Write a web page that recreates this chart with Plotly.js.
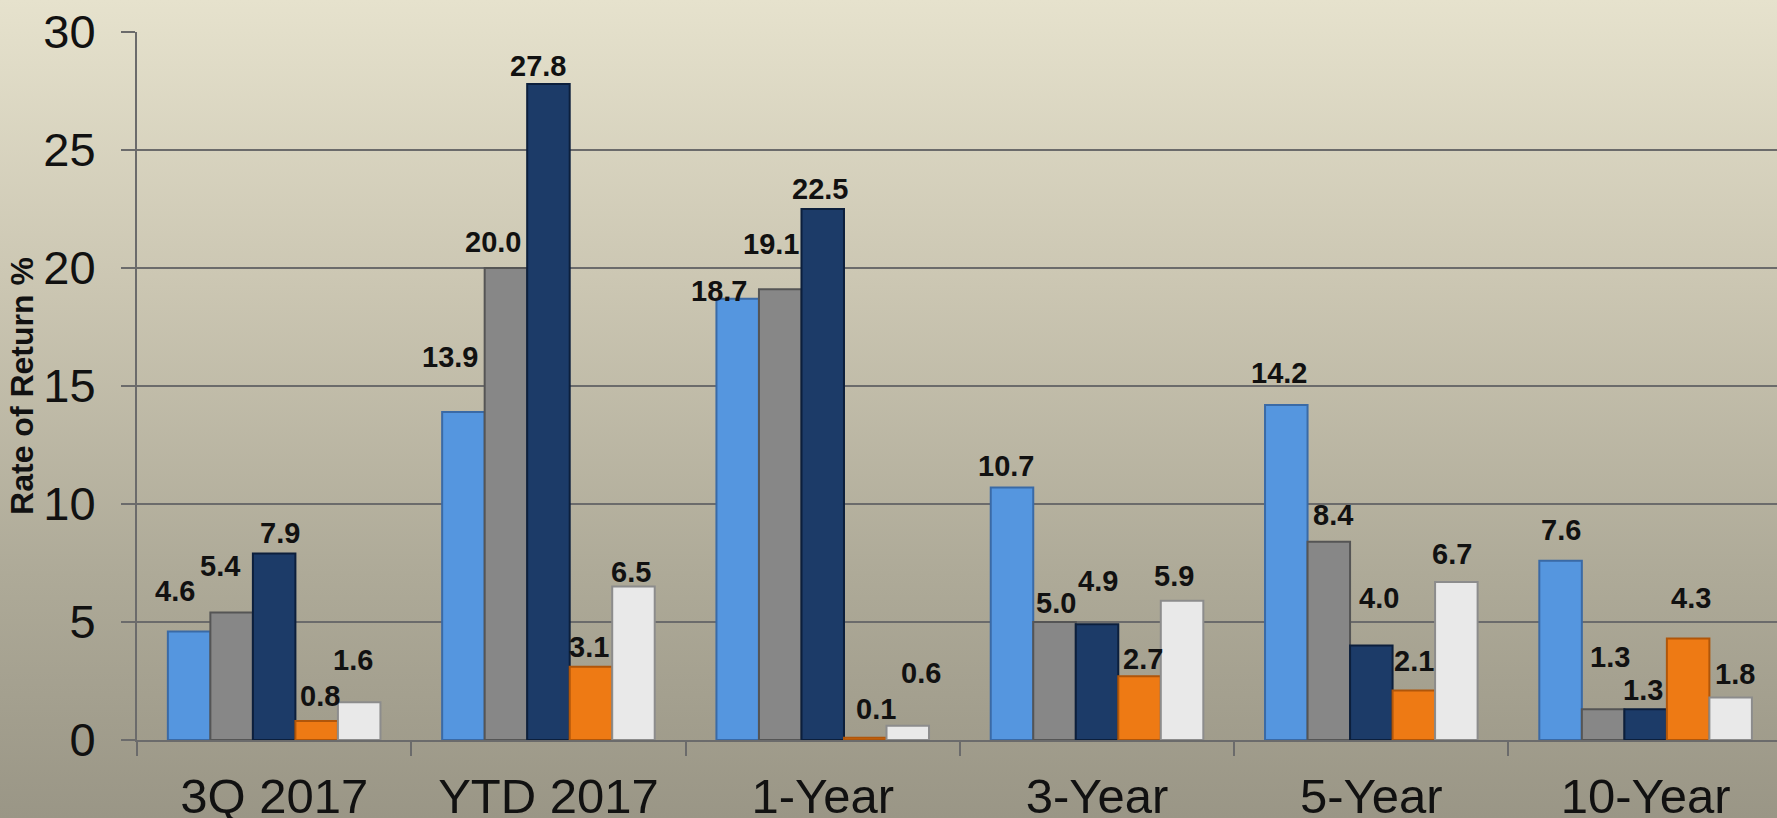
<!DOCTYPE html>
<html>
<head>
<meta charset="utf-8">
<script src="https://cdn.plot.ly/plotly-3.0.1.min.js"></script>
<style>
  html, body { margin: 0; padding: 0; }
  body {
    width: 1777px; height: 818px; overflow: hidden;
    background: linear-gradient(to bottom, #e6e2cd 0%, #cbc6b2 35%, #aeaa98 70%, #9a9686 100%);
  }
  #chart { width: 1777px; height: 818px; }
</style>
</head>
<body>
<div id="chart"></div>
<script>
// Categories (x axis)
const categories = ["3Q 2017", "YTD 2017", "1-Year", "3-Year", "5-Year", "10-Year"];

// Series values (rate of return %), one array per series
const seriesA = [4.6, 13.9, 18.7, 10.7, 14.2, 7.6];   // light blue
const seriesB = [5.4, 20.0, 19.1, 5.0, 8.4, 1.3];     // gray
const seriesC = [7.9, 27.8, 22.5, 4.9, 4.0, 1.3];     // navy
const seriesD = [0.8, 3.1, 0.1, 2.7, 2.1, 4.3];       // orange
const seriesE = [1.6, 6.5, 0.6, 5.9, 6.7, 1.8];       // white

const yTickValues = [0, 5, 10, 15, 20, 25, 30];
const yAxisTitle = "Rate of Return %";

// ---- styling ----
const seriesList = [seriesA, seriesB, seriesC, seriesD, seriesE];
const fills = ["#5596df", "#878787", "#1c3b68", "#ee7a14", "#e9e9e9"];
const edges = ["#3a6aa6", "#555555", "#0c1f3c", "#b0560a", "#8c8c8c"];

// label placement nudges in pixels [dx, dy] (manual label placement in the original)
const labelNudge = [
  [[-14, 40], [-13, 55], [-19, 8], [-6, 21], [-7, 32], [0, 31]],
  [[-12, 47], [-13, 26], [-9, 45], [1, 19], [4, 27], [7, 52]],
  [[6, 21], [-10, 18], [-3, 20], [1, 43], [8, 48], [-3, 19]],
  [[3, 25], [-2, 20], [11, 29], [3, 17], [0, 29], [3, 41]],
  [[-6, 42], [-2, 15], [13, 53], [-8, 25], [-4, 28], [4, 24]]
];

const bargap = 0.225;
const nSeries = seriesList.length;
const barFrac = (1 - bargap) / nSeries;

const traces = seriesList.map((vals, i) => ({
  type: "bar",
  x: categories,
  y: vals,
  marker: { color: fills[i], line: { color: edges[i], width: 2 } },
  hoverinfo: "skip",
  showlegend: false
}));

const annotations = [];
seriesList.forEach((vals, i) => {
  vals.forEach((v, k) => {
    annotations.push({
      xref: "x", yref: "y",
      x: k + (i - (nSeries - 1) / 2) * barFrac,
      y: v,
      text: v.toFixed(1),
      showarrow: false,
      xanchor: "center", yanchor: "middle",
      xshift: labelNudge[i][k][0],
      yshift: labelNudge[i][k][1],
      font: { family: "Liberation Sans, Arial, sans-serif", size: 29, color: "#111111", weight: "bold" }
    });
  });
});

const layout = {
  width: 1777,
  height: 818,
  paper_bgcolor: "rgba(0,0,0,0)",
  plot_bgcolor: "rgba(0,0,0,0)",
  margin: { l: 137, r: 0, t: 32, b: 78 },
  barmode: "group",
  bargap: bargap,
  bargroupgap: 0,
  showlegend: false,
  font: { family: "Liberation Sans, Arial, sans-serif", color: "#111111" },
  annotations: annotations,
  xaxis: {
    type: "category",
    range: [-0.5, 5.479],
    tickson: "boundaries",
    ticks: "outside",
    ticklen: 14,
    tickwidth: 2,
    tickcolor: "#6b6b6b",
    showline: true,
    linecolor: "#6b6b6b",
    linewidth: 2,
    showgrid: false,
    zeroline: false,
    tickfont: { size: 49, color: "#111111" },
    ticklabelstandoff: 12,
    automargin: false,
    fixedrange: true
  },
  yaxis: {
    range: [0, 30],
    tickvals: yTickValues,
    ticktext: yTickValues.map(String),
    ticks: "outside",
    ticklen: 14,
    tickwidth: 2,
    tickcolor: "#6b6b6b",
    showline: true,
    linecolor: "#6b6b6b",
    linewidth: 2,
    showgrid: true,
    gridcolor: "#6b6b6b",
    gridwidth: 2,
    zeroline: false,
    tickfont: { size: 47, color: "#111111" },
    ticklabelstandoff: 16,
    title: { text: yAxisTitle, font: { size: 32, weight: "bold", color: "#111111" }, standoff: 0 },
    automargin: false,
    fixedrange: true
  }
};

Plotly.newPlot("chart", traces, layout, { displayModeBar: false, staticPlot: true });
</script>
</body>
</html>
